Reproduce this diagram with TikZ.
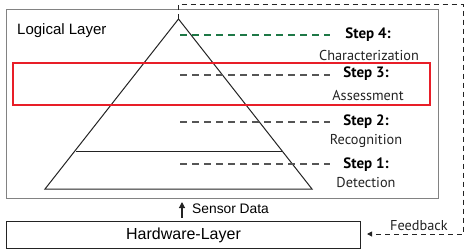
\documentclass[tikz,border=0pt]{standalone}
\usepackage{fontspec}
\setmainfont{Liberation Sans}
\newfontfamily\stepfont{PT Sans}
\usetikzlibrary{arrows.meta}
\definecolor{boxgray}{RGB}{130,130,130}
\definecolor{linedark}{RGB}{35,35,35}
\definecolor{dashgray}{RGB}{85,85,85}
\definecolor{dashgreen}{RGB}{30,120,70}
\definecolor{hired}{RGB}{232,30,40}
\tikzset{
  layerbox/.style={draw=boxgray, line width=0.9pt},
  hwbox/.style={draw=linedark, line width=1pt},
  pyr/.style={draw=linedark, line width=1pt},
  stepdash/.style={draw=dashgray, line width=1.2pt, dash pattern=on 7pt off 5pt},
  greendash/.style={draw=dashgreen, line width=1.2pt, dash pattern=on 7pt off 5pt},
  redbox/.style={draw=hired, line width=2pt},
  fbdash/.style={draw=linedark, line width=0.9pt, dash pattern=on 5pt off 4pt},
  steptitle/.style={font=\stepfont\bfseries\fontsize{15}{17}\selectfont, text=black, inner sep=0pt},
  stepdesc/.style={font=\stepfont\fontsize{14.3}{16}\selectfont, text=linedark, inner sep=0pt},
}
\begin{document}
\begin{tikzpicture}[x=1pt,y=-1pt]
\useasboundingbox (0,0) rectangle (471,250);
% Logical layer box
\draw[layerbox] (6,9) rectangle (438,198);
\node[anchor=west, inner sep=0pt, font=\fontsize{15}{17}\selectfont] (ll) at (17,31) {Logical Layer};
% pyramid
\coordinate (apex) at (178.5,19);
\coordinate (bl) at (45,189);
\coordinate (br) at (312,189);
\draw[pyr] (bl) -- (apex) -- (br) -- cycle;
\coordinate (ml) at (76,151);
\coordinate (mr) at (282,151);
\draw[pyr] (ml) -- (mr);
% dashed step lines
\coordinate (d4a) at (180,35); \coordinate (d4b) at (330,35);
\coordinate (d3a) at (180,75); \coordinate (d3b) at (330,75);
\coordinate (d2a) at (180,122); \coordinate (d2b) at (330,122);
\coordinate (d1a) at (180,164); \coordinate (d1b) at (330,164);
\draw[greendash] (d4a) -- (d4b);
\draw[stepdash] (d3a) -- (d3b);
\draw[stepdash] (d2a) -- (d2b);
\draw[stepdash] (d1a) -- (d1b);
% step labels
\node[steptitle] (s4) at (368,35) {Step 4:};
\node[stepdesc] (s4d) at (369,55) {Characterization};
\node[steptitle] (s3) at (366,74) {Step 3:};
\node[stepdesc] (s3d) at (368,95) {Assessment};
\node[steptitle] (s2) at (366,122) {Step 2:};
\node[stepdesc] (s2d) at (366,141) {Recognition};
\node[steptitle] (s1) at (366,165) {Step 1:};
\node[stepdesc] (s1d) at (366,183) {Detection};
% red highlight
\draw[redbox] (13,63) rectangle (430,105);
% hardware layer
\node[hwbox, minimum width=354pt, minimum height=27pt, inner sep=0pt, anchor=north west,
      font=\fontsize{16}{18}\selectfont] (hw) at (6,221) {Hardware-Layer};
% sensor data arrow
\coordinate (sda) at (182,218);
\coordinate (sdb) at (182,202);
\draw[linedark, line width=1.1pt, -{Triangle[length=6pt,width=6pt]}] (sda) -- (sdb);
\node[anchor=west, inner sep=0pt, font=\fontsize{13.8}{15}\selectfont] (sd) at (192,209) {Sensor Data};
% feedback
\coordinate (f1) at (178.5,4);
\coordinate (f2) at (463,4);
\coordinate (f3) at (463,234);
\coordinate (f4) at (367,234);
\draw[fbdash, -{Triangle[length=5pt,width=5pt]}] (apex) -- (f1) -- (f2) -- (f3) -- (f4);
\node[anchor=base west, inner sep=0pt, font=\stepfont\fontsize{14.3}{16}\selectfont, text=linedark] (fb) at (390,230) {Feedback};
\end{tikzpicture}
\end{document}
